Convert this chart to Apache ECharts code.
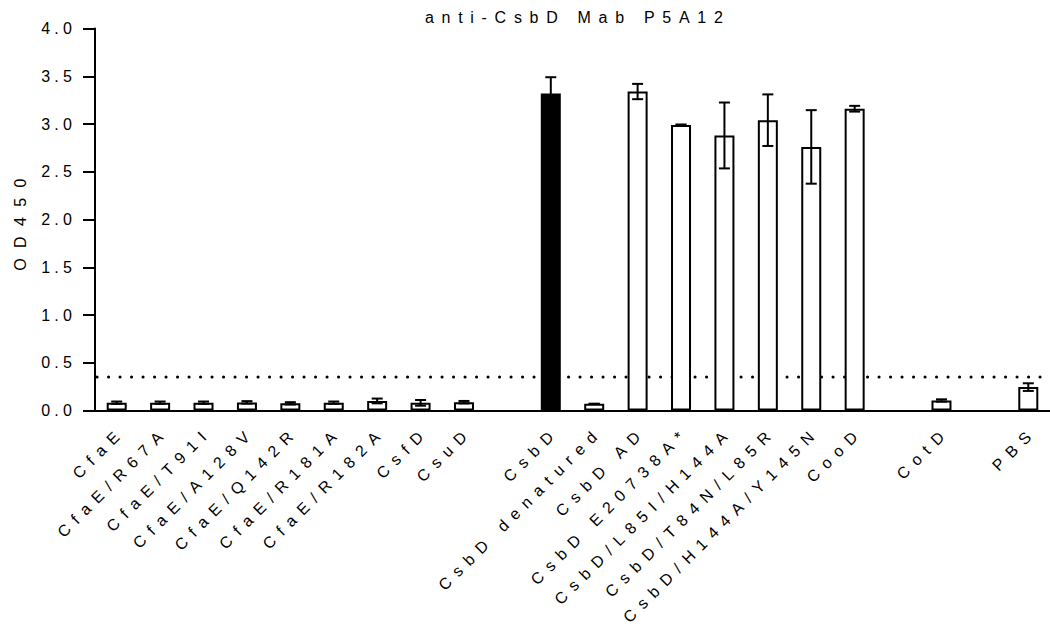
<!DOCTYPE html>
<html><head><meta charset="utf-8">
<script src="https://cdn.jsdelivr.net/npm/echarts@6/dist/echarts.min.js"></script>
<style>
html,body{margin:0;padding:0;background:#fff}
#chart{width:1050px;height:636px}
#chart text[style*="lsTick"]{letter-spacing:4.2px}
#chart text[style*="lsCat"]{letter-spacing:7.7px}
#chart text[style*="lsTitle"]{letter-spacing:7.7px}
#chart text[style*="lsName"]{letter-spacing:10.4px}
</style></head><body><div id="chart"></div>
<script>
// ---- data ----
const title = 'anti-CsbD Mab P5A12';
const yName = 'OD450';
const categories = ['CfaE','CfaE/R67A','CfaE/T91I','CfaE/A128V','CfaE/Q142R','CfaE/R181A','CfaE/R182A','CsfD','CsuD',' ',
  'CsbD','CsbD denatured','CsbD AD','CsbD E20738A*','CsbD/L85I/H144A','CsbD/T84N/L85R','CsbD/H144A/Y145N','CooD','  ',
  'CotD','   ','PBS'];
const means = [0.082,0.082,0.082,0.085,0.075,0.082,0.10,0.08,0.087,null,
  3.32,0.07,3.34,2.99,2.88,3.04,2.76,3.16,null,
  0.105,null,0.245];
const errors = [0.012,0.012,0.012,0.013,0.012,0.012,0.025,0.03,0.013,null,
  0.17,0,0.08,0.005,0.345,0.27,0.385,0.03,null,
  0.012,null,0.04];
const threshold = 0.35;
const highlighted = 'CsbD';
const yTicks = {min:0, max:4, interval:0.5};

// ---- chart ----
const FONT = 'Liberation Sans, Arial, sans-serif';
const chart = echarts.init(document.getElementById('chart'), null, {renderer:'svg'});
const barData = means.map((m,i)=> m==null ? '-' : {
  value:m,
  itemStyle:{color: categories[i]===highlighted ? '#000' : '#fff'}
});
const errData = means.map((m,i)=> m==null ? null : [i, m-errors[i], m+errors[i]]).filter(d=>d);

chart.setOption({
  animation:false,
  backgroundColor:'#fff',
  title:{text:title, left:425, top:9.8, padding:0,
    textStyle:{fontFamily:FONT+', lsTitle', fontSize:16, fontWeight:'normal', color:'#000'}},
  grid:{left:95, top:28.5, width:958, height:382},
  xAxis:{type:'category', data:categories, boundaryGap:true,
    axisLine:{lineStyle:{color:'#000', width:2}},
    axisTick:{show:false},
    axisLabel:{interval:0, rotate:45, margin:24, padding:[0,-7.7,0,0], color:'#000',
      fontFamily:FONT+', lsCat', fontSize:16}},
  yAxis:{type:'value', min:yTicks.min, max:yTicks.max, interval:yTicks.interval,
    name:yName, nameLocation:'middle', nameGap:67,
    nameTextStyle:{fontFamily:FONT+', lsName', fontSize:16, color:'#000'},
    axisLine:{show:true, lineStyle:{color:'#000', width:2}},
    axisTick:{show:true, length:12, lineStyle:{color:'#000', width:2}},
    splitLine:{show:false},
    axisLabel:{margin:19, color:'#000', fontFamily:FONT+', lsTick', fontSize:16,
      formatter:v=>v.toFixed(1)}},
  series:[
    {type:'custom', data:[[0, threshold]], z:1, silent:true, encode:{x:0, y:1},
      renderItem:(params, api)=>{
        const y = api.coord([0, api.value(1)])[1];
        const cs = params.coordSys;
        return {type:'line', shape:{x1:cs.x+2, y1:y, x2:cs.x+cs.width, y2:y},
          style:{stroke:'#000', lineWidth:3, lineDash:[0.1,11.4], lineCap:'round'}};
      }},
    {type:'bar', data:barData, barWidth:20, z:2,
      itemStyle:{borderColor:'#000', borderWidth:2}},
    {type:'custom', data:errData, z:3, encode:{x:0, y:[1,2]},
      renderItem:(params, api)=>{
        const x = api.value(0);
        const lo = api.coord([x, api.value(1)]);
        const hi = api.coord([x, api.value(2)]);
        const hw = 5.5;
        const st = {stroke:'#000', lineWidth:2};
        return {type:'group', children:[
          {type:'line', shape:{x1:hi[0], y1:hi[1], x2:lo[0], y2:lo[1]}, style:st},
          {type:'line', shape:{x1:hi[0]-hw, y1:hi[1], x2:hi[0]+hw, y2:hi[1]}, style:st},
          {type:'line', shape:{x1:lo[0]-hw, y1:lo[1], x2:lo[0]+hw, y2:lo[1]}, style:st}
        ]};
      }}
  ]
});
</script>
</body></html>
